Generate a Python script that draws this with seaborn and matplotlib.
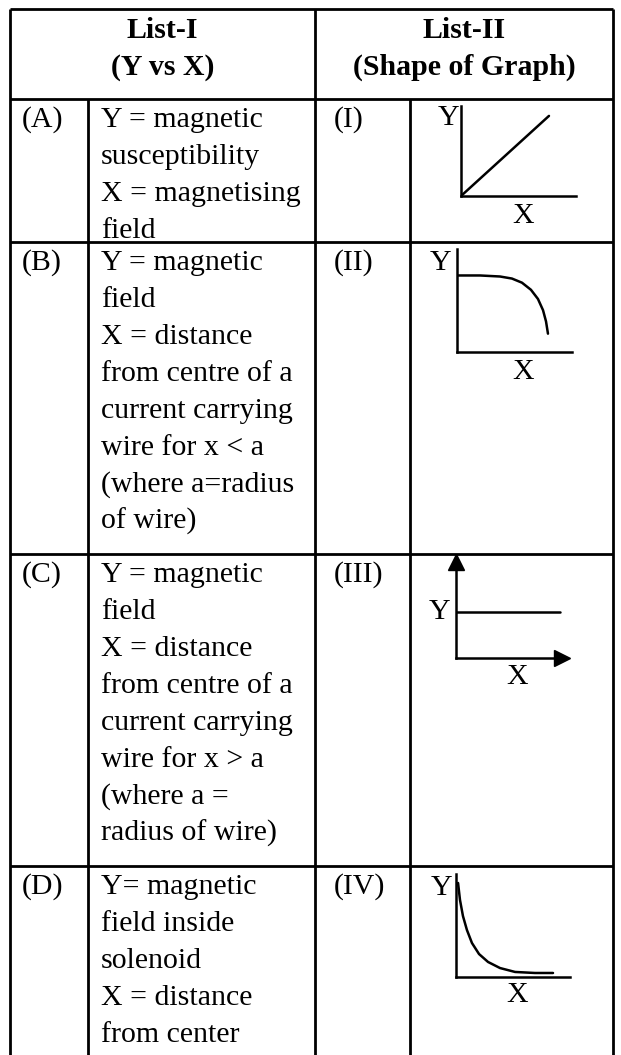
import matplotlib
matplotlib.use("Agg")
import matplotlib.pyplot as plt
import seaborn as sns

# ---------------------------------------------
# table content
# ---------------------------------------------
header_left = ["List-I", "(Y vs X)"]
header_right = ["List-II", "(Shape of Graph)"]

row_tags = ["(A)", "(B)", "(C)", "(D)"]
roman_tags = ["(I)", "(II)", "(III)", "(IV)"]

list1_text = [
    ["Y = magnetic", "susceptibility", "X = magnetising", "field"],
    ["Y = magnetic", "field", "X = distance", "from centre of a",
     "current carrying", "wire for x < a", "(where a=radius", "of wire)"],
    ["Y = magnetic", "field", "X = distance", "from centre of a",
     "current carrying", "wire for x > a", "(where a =", "radius of wire)"],
    ["Y= magnetic", "field inside", "solenoid", "X = distance", "from center"],
]

# graph shapes (fraction of each small axes)
shape_I_x = [0.0, 0.765]
shape_I_y = [0.0, 0.89]

shape_II_x = [0.0, 0.20, 0.374, 0.478, 0.565, 0.643, 0.704, 0.748, 0.774, 0.791]
shape_II_y = [0.743, 0.743, 0.733, 0.713, 0.673, 0.604, 0.515, 0.406, 0.297, 0.178]

shape_III_x = [0.0, 0.98]
shape_III_y = [0.48, 0.48]

shape_IV_x = [0.018, 0.035, 0.061, 0.096, 0.14, 0.202, 0.281, 0.386, 0.518, 0.693, 0.851]
shape_IV_y = [0.913, 0.748, 0.592, 0.456, 0.330, 0.223, 0.146, 0.087, 0.049, 0.039, 0.039]

shapes = [(shape_I_x, shape_I_y), (shape_II_x, shape_II_y),
          (shape_III_x, shape_III_y), (shape_IV_x, shape_IV_y)]

# ---------------------------------------------
# layout (pixels)
# ---------------------------------------------
W, H = 621, 1055
col_x = [10, 88, 315, 410, 613]
row_y = [9, 99, 242, 554, 866]
line_gap = 37.0
first_off = 18.0
FS = 21.5
LW = 2.0
GLW = 1.8

# small graph boxes: (x of y-axis, y of x-axis, width, height)
graph_box = [
    (461, 196, 115, 90),
    (457, 352, 115, 103),
    (456, 658, 106, 96),
    (456, 977, 114, 103),
]
y_label_pos = [(449, 118), (441, 263), (440, 612), (442, 888)]
x_label_pos = [(523, 216), (523, 372), (517, 677), (517, 995)]

sns.set_theme(style="white")
plt.rcParams['font.family'] = ['Liberation Serif', 'DejaVu Serif']

fig = plt.figure(figsize=(W / 100, H / 100), dpi=100)
ax = fig.add_axes([0, 0, 1, 1])
ax.set_xlim(0, W)
ax.set_ylim(H, 0)
ax.axis('off')

# table rules
ax.hlines(row_y, col_x[0], col_x[-1], color='black', lw=LW)
ax.vlines([col_x[0], col_x[2], col_x[-1]], row_y[0], H, color='black', lw=LW)
ax.vlines([col_x[1], col_x[3]], row_y[1], H, color='black', lw=LW)


def baseline(row_top, i):
    return row_top + first_off + i * line_gap + 10


# header
for i, (l, r) in enumerate(zip(header_left, header_right)):
    yb = baseline(row_y[0], i) + 1
    ax.text((col_x[0] + col_x[2]) / 2, yb, l, ha='center', va='baseline',
            fontsize=FS, fontweight='bold', color='black')
    ax.text((col_x[2] + col_x[-1]) / 2, yb, r, ha='center', va='baseline',
            fontsize=FS, fontweight='bold', color='black')

# body rows
for r in range(4):
    top = row_y[r + 1]
    ax.text(22, baseline(top, 0), row_tags[r], ha='left', va='baseline',
            fontsize=FS, color='black')
    ax.text(334, baseline(top, 0), roman_tags[r], ha='left', va='baseline',
            fontsize=FS, color='black')
    for i, s in enumerate(list1_text[r]):
        ax.text(101, baseline(top, i), s, ha='left', va='baseline',
                fontsize=FS, color='black')

# small graphs
for g, (gx, gy) in enumerate(shapes):
    x0, y0, w, h = graph_box[g]
    gax = fig.add_axes([x0 / W, 1 - y0 / H, w / W, h / H])
    gax.set_xlim(0, 1)
    gax.set_ylim(0, 1)
    gax.patch.set_alpha(0)
    for side in ['top', 'right']:
        gax.spines[side].set_visible(False)
    for side in ['left', 'bottom']:
        gax.spines[side].set_color('black')
        gax.spines[side].set_linewidth(GLW)
    gax.set_xticks([])
    gax.set_yticks([])
    sns.lineplot(x=gx, y=gy, ax=gax, color='black', lw=GLW,
                 sort=False, estimator=None)
    if g == 2:
        gax.plot([0], [1], marker='^', ms=11, color='black',
                 transform=gax.transAxes, clip_on=False)
        gax.plot([1], [0], marker='>', ms=11, color='black',
                 transform=gax.transAxes, clip_on=False)
    ax.text(*y_label_pos[g], "Y", ha='center', va='center', fontsize=FS, color='black')
    ax.text(*x_label_pos[g], "X", ha='center', va='center', fontsize=FS, color='black')

fig.savefig('out.png', dpi=100)
